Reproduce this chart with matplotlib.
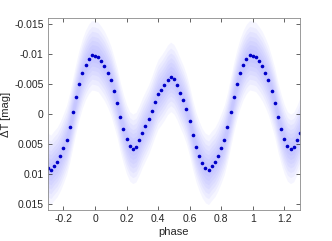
"""
Phase-folded light curve: scatter envelope plus binned means
"""

import numpy as np
import matplotlib.pyplot as plt

plt.rcParams['font.family'] = ['Liberation Sans', 'DejaVu Sans']

# binned mean, one period (phase 0.00 .. 0.98, step 0.02)
bin_phase = [0.00, 0.02, 0.04, 0.06, 0.08, 0.10, 0.12, 0.14, 0.16, 0.18,
             0.20, 0.22, 0.24, 0.26, 0.28, 0.30, 0.32, 0.34, 0.36, 0.38,
             0.40, 0.42, 0.44, 0.46, 0.48, 0.50, 0.52, 0.54, 0.56, 0.58,
             0.60, 0.62, 0.64, 0.66, 0.68, 0.70, 0.72, 0.74, 0.76, 0.78,
             0.80, 0.82, 0.84, 0.86, 0.88, 0.90, 0.92, 0.94, 0.96, 0.98]
bin_dmag = [-0.0097, -0.0095, -0.0088, -0.0080, -0.0069, -0.0056, -0.0038, -0.0019, 0.0005, 0.0025,
            0.0042, 0.0054, 0.0058, 0.0055, 0.0044, 0.0031, 0.0020, 0.0009, -0.0005, -0.0020,
            -0.0033, -0.0040, -0.0048, -0.0057, -0.0062, -0.0058, -0.0048, -0.0035, -0.0023, -0.0008,
            0.0012, 0.0035, 0.0055, 0.0070, 0.0082, 0.0090, 0.0093, 0.0086, 0.0080, 0.0070,
            0.0057, 0.0043, 0.0022, -0.0003, -0.0028, -0.0050, -0.0068, -0.0082, -0.0092, -0.0098]

# vertical half-widths of the raw point cloud around the mean (outer -> inner)
cloud_halfwidth = [0.0058, 0.0048, 0.0040, 0.0032, 0.0025, 0.0018, 0.0011]

x_ticks = [-0.2, 0, 0.2, 0.4, 0.6, 0.8, 1, 1.2]
x_ticklabels = ['-0.2', '0', '0.2', '0.4', '0.6', '0.8', '1', '1.2']
y_ticks = [-0.015, -0.01, -0.005, 0, 0.005, 0.01, 0.015]
y_ticklabels = ['-0.015', '-0.01', '-0.005', '0', '0.005', '0.01', '0.015']

# repeat the folded curve over the plotted phase range
ph = np.array(bin_phase)
dm = np.array(bin_dmag)
phase = np.concatenate([ph - 1, ph, ph + 1, ph[:1] + 2])
dmag = np.concatenate([dm, dm, dm, dm[:1]])
keep = (phase >= -0.31) & (phase <= 1.31)
phase, dmag = phase[keep], dmag[keep]

fig = plt.figure(figsize=(3.32, 2.41), dpi=100)
ax = fig.add_axes([0.1437, 0.1286, 0.7599, 0.7964])

for hw in cloud_halfwidth:
    ax.fill_between(phase, dmag - hw, dmag + hw, color='#8080ff',
                    alpha=0.075, linewidth=0)

ax.plot(phase, dmag, '.', color='#0000c8', markersize=3.2)

ax.set_xlim(-0.3, 1.3)
ax.set_ylim(0.016, -0.016)
ax.set_xticks(x_ticks)
ax.set_xticklabels(x_ticklabels)
ax.set_yticks(y_ticks)
ax.set_yticklabels(y_ticklabels)
ax.tick_params(direction='in', length=3, width=0.5, labelsize=7.5,
               colors='#262626', top=True, right=True, pad=3)
for s in ax.spines.values():
    s.set_linewidth(0.6)
    s.set_color('#8a8a8a')

ax.set_xlabel('phase', fontsize=8, color='#262626', labelpad=2)
ax.set_ylabel('ΔT [mag]', fontsize=8, color='#262626', labelpad=2)

fig.savefig('out.png', dpi=100)
plt.close(fig)
